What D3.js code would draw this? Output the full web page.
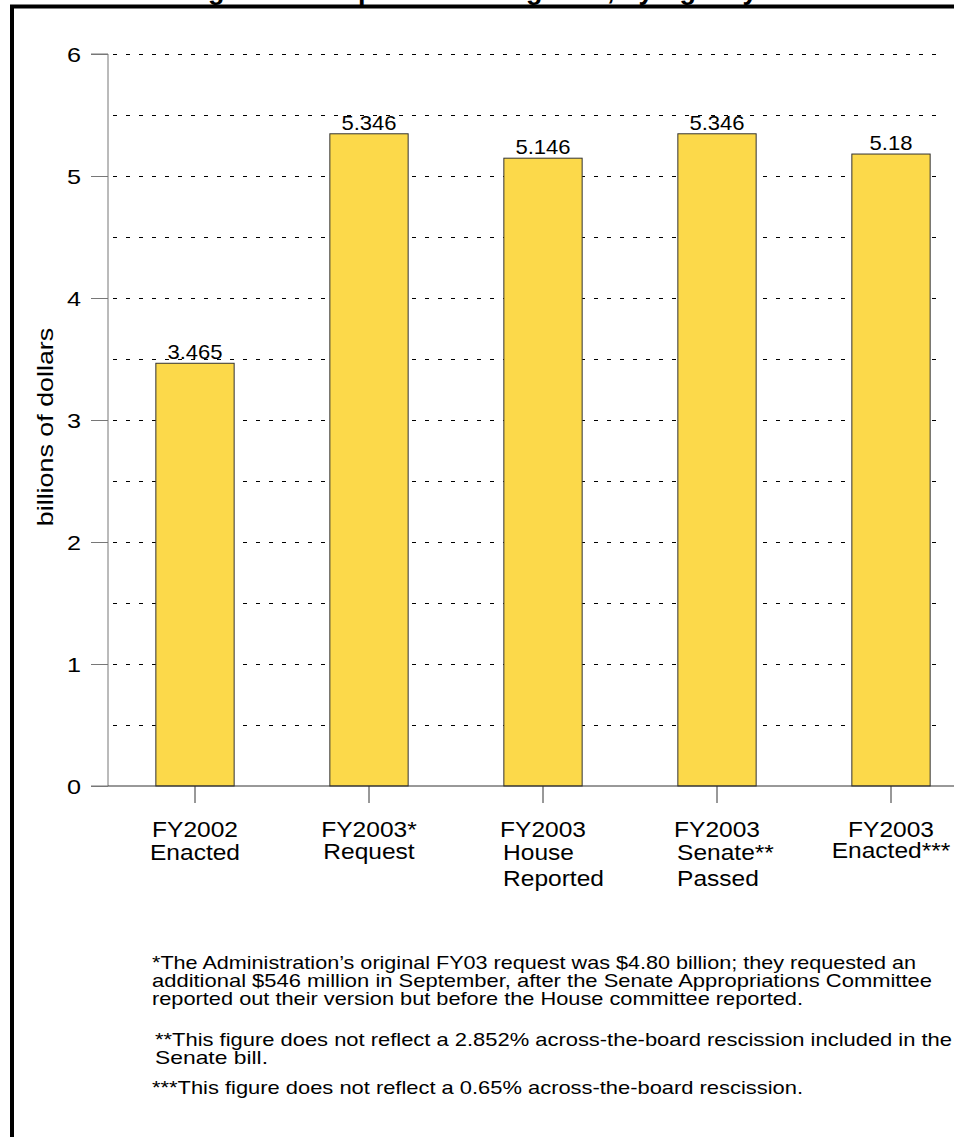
<!DOCTYPE html>
<html>
<head>
<meta charset="utf-8">
<script src="https://cdn.jsdelivr.net/npm/d3@7"></script>
<style>
  html, body { margin: 0; padding: 0; background: #fff; }
  svg { display: block; }
  text { font-family: Arial, "Liberation Sans", Helvetica, sans-serif; fill: #000; }
</style>
</head>
<body>
<svg id="chart" width="954" height="1137"></svg>
<script>
// ---- data ----
const categories = ["FY2002 Enacted", "FY2003* Request", "FY2003 House Reported", "FY2003 Senate** Passed", "FY2003 Enacted***"];
const categoryLines = [
  ["FY2002", "Enacted"],
  ["FY2003*", "Request"],
  ["FY2003", "House", "Reported"],
  ["FY2003", "Senate**", "Passed"],
  ["FY2003", "Enacted***"]
];
const values = [3.465, 5.346, 5.146, 5.346, 5.18];
const valueLabels = ["3.465", "5.346", "5.146", "5.346", "5.18"];
const yTicks = [0, 1, 2, 3, 4, 5, 6];
const gridValues = [0.5, 1, 1.5, 2, 2.5, 3, 3.5, 4, 4.5, 5, 5.5, 6];
const yAxisTitle = "billions of dollars";
const chartTitle = "Funding for the Department Programs, by Agency";
const footnotes = [
  ["*The Administration\u2019s original FY03 request was $4.80 billion; they requested an",
   "additional $546 million in September, after the Senate Appropriations Committee",
   "reported out their version but before the House committee reported."],
  ["**This figure does not reflect a 2.852% across-the-board rescission included in the",
   "Senate bill."],
  ["***This figure does not reflect a 0.65% across-the-board rescission."]
];

// ---- helpers ----
function stretch(sel, factor) {
  sel.each(function () {
    const w = this.getComputedTextLength();
    d3.select(this).attr("textLength", w * factor).attr("lengthAdjust", "spacingAndGlyphs");
  });
}

// ---- layout ----
const svg = d3.select("#chart");
const x0 = 108, x1 = 978, yTop = 54, yBottom = 786;

const x = d3.scaleBand().domain(categories).range([x0, x1]).paddingInner(0.55).paddingOuter(0.275);
const y = d3.scaleLinear().domain([0, 6]).range([yBottom, yTop]);

// frame
svg.append("path")
  .attr("d", `M12,1140 L12,6.5 L960,6.5`)
  .attr("fill", "none").attr("stroke", "#000").attr("stroke-width", 4);

// clipped title (only descenders visible)
svg.append("text")
  .attr("x", 118).attr("y", -1)
  .attr("text-anchor", "start")
  .attr("font-size", 27).attr("font-weight", "bold")
  .text(chartTitle);

// gridlines
svg.append("g").selectAll("line").data(gridValues).join("line")
  .attr("x1", x0 + 5).attr("x2", 944)
  .attr("y1", d => Math.round(y(d)) + 0.5).attr("y2", d => Math.round(y(d)) + 0.5)
  .attr("stroke", "#000").attr("stroke-width", 1).attr("stroke-dasharray", "4,9");

// bars
svg.append("g").selectAll("rect").data(values).join("rect")
  .attr("x", (d, i) => x(categories[i]))
  .attr("width", x.bandwidth())
  .attr("y", d => y(d))
  .attr("height", d => y(0) - y(d))
  .attr("fill", "#FCD94A")
  .attr("stroke", "#333").attr("stroke-width", 1);

// value labels
const vl = svg.append("g").selectAll("text").data(values).join("text")
  .attr("x", (d, i) => x(categories[i]) + x.bandwidth() / 2)
  .attr("y", d => y(d) - 4)
  .attr("text-anchor", "middle")
  .attr("font-size", 21)
  .text((d, i) => valueLabels[i]);
stretch(vl, 1.05);

// y axis
const yAxis = d3.axisLeft(y).tickValues(yTicks).tickSize(17).tickPadding(10).tickFormat(d3.format("d"));
const gy = svg.append("g").attr("transform", `translate(${x0},0)`).call(yAxis);
gy.select(".domain").attr("stroke", "#777").attr("d", `M-17,${yTop}H0V${yBottom}H-17`);
gy.selectAll(".tick line").attr("stroke", "#777");
const yt = gy.selectAll(".tick text").attr("font-size", 21).attr("font-family", "Arial, 'Liberation Sans', sans-serif").attr("fill", "#000").attr("dy", "0.36em");
stretch(yt, 1.2);

// x axis
const xAxis = d3.axisBottom(x).tickSize(17).tickFormat("");
const gx = svg.append("g").attr("transform", `translate(0,${yBottom})`).call(xAxis);
gx.select(".domain").attr("stroke", "#333").attr("d", `M${x0},0H${x1}`);
gx.selectAll(".tick line").attr("stroke", "#333");

// x category labels
const lineOffsets = [0, 23, 49];
const leftAligned = new Set([2, 3]);
const labelG = svg.append("g");
categoryLines.forEach((lines, i) => {
  const cx = x(categories[i]) + x.bandwidth() / 2;
  const first = labelG.append("text")
    .attr("x", cx).attr("y", 837)
    .attr("text-anchor", "middle").attr("font-size", 22.5)
    .text(lines[0]);
  stretch(first, 1.09);
  const bb = first.node().getBBox();
  lines.slice(1).forEach((ln, j) => {
    const t = labelG.append("text")
      .attr("y", 837 + lineOffsets[j + 1] - (i === 4 ? 2 : 0) - (i === 1 ? 1 : 0))
      .attr("font-size", 22.5)
      .text(ln);
    if (leftAligned.has(i)) t.attr("x", bb.x + 3).attr("text-anchor", "start");
    else t.attr("x", cx).attr("text-anchor", "middle");
    stretch(t, 1.09);
  });
});

// y axis title
const yTitle = svg.append("text")
  .attr("transform", `translate(53,427) rotate(-90)`)
  .attr("text-anchor", "middle")
  .attr("font-size", 22)
  .text(yAxisTitle);
stretch(yTitle, 1.22);

// footnotes
const noteStarts = [969, 1046, 1094];
const noteWidths = [[764, 780, 651], [797, 113], [651]];
const noteG = svg.append("g");
footnotes.forEach((block, b) => {
  block.forEach((ln, j) => {
    noteG.append("text")
      .attr("x", b === 1 ? 155 : 152)
      .attr("y", noteStarts[b] + j * 18)
      .attr("font-size", 18.5)
      .attr("textLength", noteWidths[b][j])
      .attr("lengthAdjust", "spacingAndGlyphs")
      .text(ln);
  });
});
</script>
</body>
</html>
